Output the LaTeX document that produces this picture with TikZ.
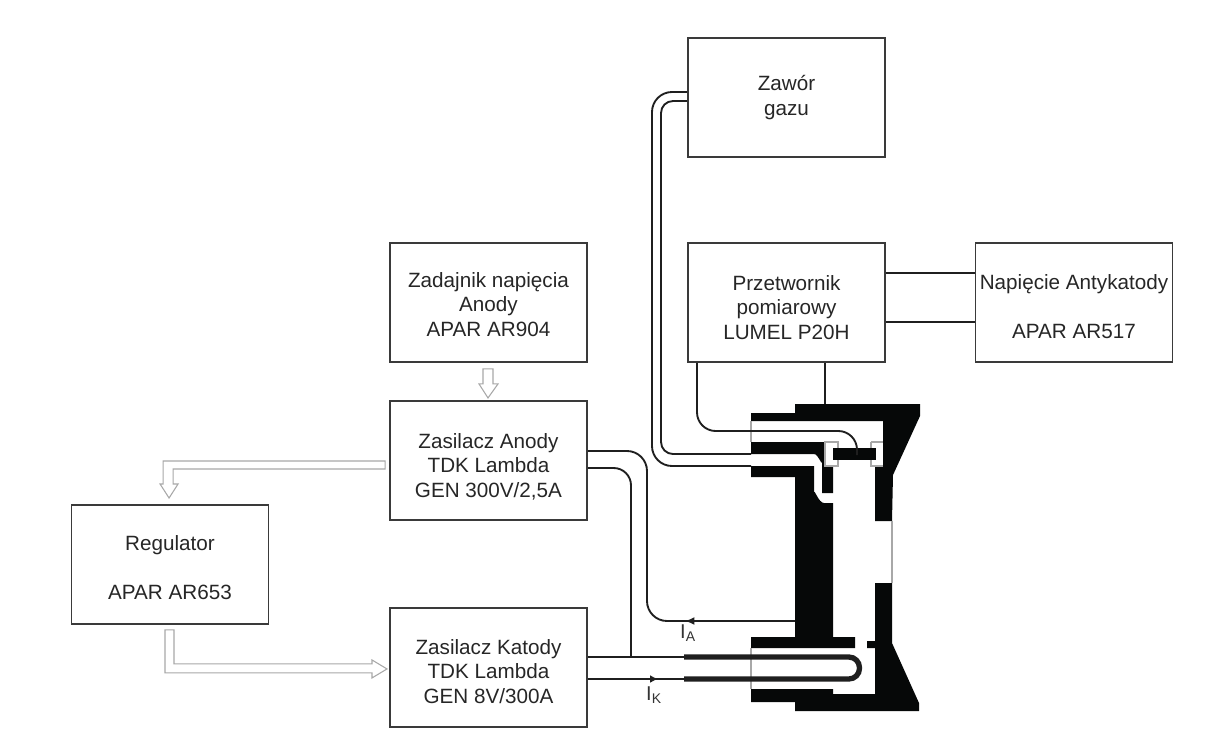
\documentclass[tikz,border=0pt]{standalone}
\usepackage{fontspec}
\setmainfont{Liberation Sans}
\usepackage{tikz}
\usetikzlibrary{arrows.meta,calc}
\definecolor{bodyblack}{HTML}{060808}
\definecolor{edgegray}{HTML}{3A3A3A}
\definecolor{pipegray}{HTML}{A8A8A8}
\newcommand{\drop}[1]{\rule{0pt}{#1}}

\begin{document}
\begin{tikzpicture}[
    x=0.75pt, y=-0.75pt,
    block/.style={draw=edgegray, line width=1.4pt, minimum width=147.75pt, minimum height=89.25pt, inner sep=0pt, align=center, font=\fontsize{15.5}{18.4}\selectfont, text=black!85},
    wire/.style={draw=black!88, line width=1.4pt},
    hollow/.style={draw=pipegray, line width=0.8pt, fill=white, line join=miter},
    body/.style={fill=bodyblack, draw=none},
    seam/.style={draw=pipegray, line width=0.8pt},
    heater/.style={draw=black!88, line width=4pt},
    tag/.style={font=\fontsize{15}{15}\selectfont, text=black!80, inner sep=0pt}
  ]
    \useasboundingbox (0,0) rectangle (1208,751);

    \node[block] (zawor)  at (786.5, 97.5) {Zawór\\gazu};
    \node[block] (pomiar) at (786.5, 302.5) {\drop{18.7pt}Przetwornik\\pomiarowy\\LUMEL P20H};
    \node[block] (antyk)  at (1074, 302.5) {\drop{17.2pt}Napięcie Antykatody\\[18.4pt]APAR AR517};
    \node[block] (zadaj)  at (488.5, 302.5) {\drop{14.2pt}Zadajnik napięcia\\Anody\\APAR AR904};
    \node[block] (anody)  at (488.5, 460.5) {\drop{20.2pt}Zasilacz Anody\\TDK Lambda\\GEN 300V/2,5A};
    \node[block] (regul)  at (170, 564.5) {\drop{15.7pt}Regulator\\[18.4pt]APAR AR653};
    \node[block] (katody) at (488.5, 667.5) {\drop{17.2pt}Zasilacz Katody\\TDK Lambda\\GEN 8V/300A};

    % korpus
    \fill[body] (751,413) -- (795,413) -- (795,404) -- (920,404) -- (920,416) -- (893,475) -- (892,521) -- (875,521) -- (875,466) -- (883,466) -- (883,421) -- (751,421) -- cycle;
    \fill[body] (751,442) -- (825,442) -- (825,466) -- (833,466) -- (833,493) -- (822,493) -- (822,462) to[out=-90,in=0] (814,454) -- (751,454) -- cycle;
    \fill[body] (751,466) -- (814,466) -- (814,493) to[out=90,in=180] (824,503) -- (833,503) -- (833,637) -- (855,637) -- (855,648) -- (751,648) -- (751,637) -- (795,637) -- (795,477) -- (751,477) -- cycle;
    \fill[body] (867,641) -- (875,641) -- (875,583) -- (892,583) -- (892,643) -- (919,703) -- (919,711) -- (795,711) -- (795,702) -- (751,702) -- (751,689) -- (833,689) -- (833,694) -- (875,694) -- (875,648) -- (867,648) -- cycle;
    \draw[seam] (751,421) -- (751,442);
    \draw[seam] (751,648) -- (751,689);
    \draw[seam] (892,521) -- (892,583);
    \draw[seam] (825,442) rectangle (838,466);
    \draw[seam] (871,442) -- (883,442);
    \draw[seam] (871,442) -- (871,466) -- (883,466);
    \fill[body] (833,448) rectangle (876,460);

    \coordinate (gasA)  at (751, 466);
    \coordinate (gasB)  at (751, 454);
    \coordinate (sensA) at (857, 455);
    \coordinate (sensB) at (825, 404);
    \coordinate (bodyA) at (795, 621);
    \coordinate (heatA) at (684, 657);
    \coordinate (heatK) at (684, 679);
    \coordinate (tapK)  at (631, 657);

    \draw[wire, rounded corners=15pt] (zawor.west) ++(0,-5.5) -- (652,92) -- (652,466) -- (gasA);
    \draw[wire, rounded corners=9pt]  (zawor.west) ++(0,3.5) -- (661,101) -- (661,454) -- (gasB);
    \draw[wire, rounded corners=14pt] (pomiar.south) ++(-89.5,0) -- (697,431) -- (857,431) -- (sensA);
    \draw[wire] (pomiar.south -| sensB) -- (sensB);
    \draw[wire] ([yshift=22.1pt]pomiar.east) -- ([yshift=22.1pt]antyk.west);
    \draw[wire] ([yshift=-14.6pt]pomiar.east) -- ([yshift=-14.6pt]antyk.west);

    \draw[wire, rounded corners=15pt] (anody.east) ++(0,-9.5) -- (647,451) -- (647,621) -- (bodyA);
    \draw[wire, rounded corners=13pt] (anody.east) ++(0,7.5) -- (631,468) -- (tapK);
    \draw[wire, -{Latex[length=7pt,width=6pt]}] (bodyA) -- (685,621);
    \draw[wire] (katody.east |- heatA) -- (heatA);
    \draw[wire] (katody.east |- heatK) -- (heatK);
    \draw[wire, -{Latex[length=6pt,width=6pt]}] (katody.east |- heatK) -- (658,679);
    \draw[heater, rounded corners=8pt] (heatA) -- (859.5,657) -- (859.5,679) -- (heatK);

    \node[tag] (ia) at (688, 633) {I\textsubscript{A}};
    \node[tag] (ik) at (654, 695) {I\textsubscript{K}};

    % strzalki puste
    \draw[hollow] (zadaj.south) ++(-5.5,6) -- ++(10,0) -- ++(0,15) -- ++(5,0) -- ++(-10,14) -- ++(-9,-14) -- ++(4,0) -- cycle;
    \draw[hollow] (anody.west) ++(-4,0.5) -- ++(-222,0) -- ++(0,23) -- ++(-3,0) -- ++(9,14) -- ++(9,-14) -- ++(-5,0) -- ++(0,-15) -- ++(212,0) -- cycle;
    \draw[hollow] (regul.south) ++(-5,5) -- ++(9,0) -- ++(0,34) -- ++(198,0) -- ++(0,-4) -- ++(15,9) -- ++(-15,9) -- ++(0,-5) -- ++(-207,0) -- cycle;
\end{tikzpicture}
\end{document}
